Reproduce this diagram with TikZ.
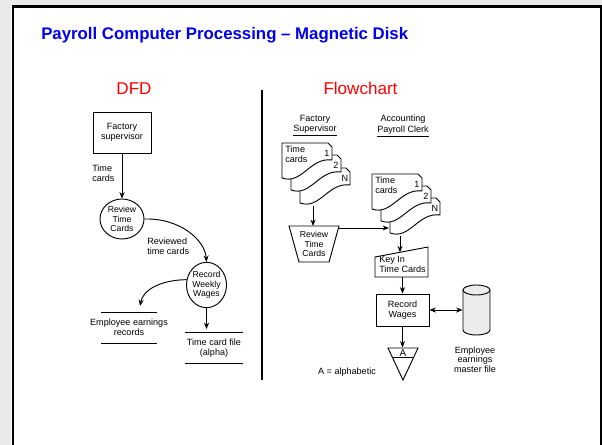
\documentclass[tikz,border=0pt]{standalone}
\usepackage{fontspec}
\setmainfont{Liberation Sans}
\usetikzlibrary{arrows.meta,shapes.geometric}
\definecolor{titleblue}{RGB}{0,0,235}
\definecolor{titlered}{RGB}{255,0,0}
\definecolor{framegray}{RGB}{234,234,234}
\definecolor{cylfill}{RGB}{236,236,236}
\newcommand{\timedoc}[4]{%
  \draw[docshape] (#1,#2) -- (#1+46,#2) -- (#1+50,#2+4) -- (#1+50,#2+17)
    .. controls (#1+28,#2+14) and (#1+20,#2+42) .. (#1,#2+35) -- cycle;
  \node[txt] (#4) at (#1+45,#2+10) {#3};}
\begin{document}
\begin{tikzpicture}[x=0.75pt,y=-0.75pt,
  txt/.style={font=\fontsize{6.8}{7.6}\selectfont, inner sep=0pt, align=center},
  ctxt/.style={font=\fontsize{6.5}{7.1}\selectfont, inner sep=0pt, align=center},
  ln/.style={line width=0.7pt},
  arr/.style={ln, -{Stealth[length=4.8pt,width=3.8pt]}},
  darr/.style={ln, {Stealth[length=4.8pt,width=3.8pt]}-{Stealth[length=4.8pt,width=3.8pt]}},
  boxnode/.style={draw, ln, txt, rectangle},
  procnode/.style={draw, ln, ellipse, inner sep=0pt},
  docshape/.style={draw, ln, fill=white},
  heading/.style={inner sep=0pt, font=\fontsize{12.8}{14}\selectfont, text=titlered, anchor=base}
]
\useasboundingbox (0,0) rectangle (602,445);
% frame
\fill[framegray] (0,0) rectangle (602,5);
\fill[framegray] (0,0) rectangle (11,445);
\draw[line width=1.6pt] (13,445) -- (13,6.5) -- (600.8,6.5) -- (600.8,445);

% titles
\node[anchor=base west, inner sep=0pt, font=\fontsize{12.6}{14}\selectfont\bfseries, text=titleblue] (title) at (41,39.5) {Payroll Computer Processing – Magnetic Disk};
\node[heading] (dfd) at (134,95) {DFD};
\node[heading] (fc) at (360.5,95) {Flowchart};

% divider
\draw[line width=0.9pt] (262,90) -- (262,380);

% ---------------- DFD ----------------
\node[boxnode, minimum width=43.5pt, minimum height=30.75pt] (fs) at (122,132.5) {Factory\\supervisor};
\node[procnode, minimum width=33pt, minimum height=30pt,
      label={[ctxt]center:Review\\Time\\Cards}] (rev) at (122,219) {};
\node[procnode, minimum width=30pt, minimum height=34pt,
      label={[ctxt]center:Record\\Weekly\\Wages}] (rec) at (206.5,285) {};

\node[txt, anchor=west, align=left] (lbltc) at (92,173.5) {Time\\cards};
\node[txt, anchor=west, align=left] (lblrtc) at (147,246) {Reviewed\\time cards};

\draw[arr] (fs.south) -- (rev.north);
\draw[arr] (rev.east) .. controls (180,218) and (205,240) .. (rec.north);

\coordinate (eerin) at (140,306);
\draw[arr] (rec.165) .. controls (160,280) and (143,290) .. (eerin);
\coordinate (tcfin) at (206.5,329);
\draw[arr] (rec.south) -- (tcfin);

\draw[ln] (101,312) -- (157,312) (101,343) -- (157,343);
\node[txt] (eer) at (129,327.5) {Employee earnings\\records};
\draw[ln] (185,332) -- (243,332) (185,363) -- (243,363);
\node[txt] (tcf) at (214,348) {Time card file\\(alpha)};

% ---------------- Flowchart ----------------
\node[txt] (h1) at (315,126) {Factory\\\underline{Supervisor}};
\node[txt] (h2) at (403,126) {Accounting\\\underline{Payroll Clerk}};

% stack 1
\timedoc{300}{168}{N}{s1n}
\timedoc{291}{155}{2}{s1b}
\timedoc{282}{143}{1}{s1a}
\node[txt, anchor=north west, align=left] (s1t) at (285,145.5) {Time\\cards};

% review time cards (manual operation)
\draw[ln] (289,226) -- (339,226) -- (329,262) -- (299,262) -- cycle;
\node[ctxt] (revtc) at (314,244) {Review\\Time\\Cards};
\coordinate (s1out) at (313,205.5);
\coordinate (trtop) at (313,226);
\coordinate (trright) at (339,228);
\draw[arr] (s1out) -- (trtop);

% stack 2
\timedoc{390}{198}{N}{s2n}
\timedoc{381}{186}{2}{s2b}
\timedoc{372}{174}{1}{s2a}
\node[txt, anchor=north west, align=left] (s2t) at (375,176.5) {Time\\cards};
\coordinate (s2in) at (389,228);
\draw[arr] (trright) -- (s2in);

% key in (manual input)
\draw[ln] (375,257) -- (428,247) -- (428,277) -- (375,277) -- cycle;
\node[txt, anchor=west, align=left] (keyin) at (379,264) {Key In\\Time Cards};
\coordinate (s2out) at (400,235.5);
\coordinate (kitop) at (400,252.3);
\draw[arr] (s2out) -- (kitop);

% record wages
\node[boxnode, minimum width=39.75pt, minimum height=24pt] (rw) at (402.5,310) {Record\\Wages};
\coordinate (kib) at (402.5,277);
\draw[arr] (kib) -- (rw.north);

% master file (disk)
\draw[ln, fill=cylfill] (463,290) -- (463,330) arc[start angle=180, end angle=0, x radius=13.5, y radius=5] -- (490,290);
\draw[ln, fill=cylfill] (476.5,290) ellipse [x radius=13.5, y radius=5];
\coordinate (cylw) at (462.5,310);
\draw[darr] (rw.east) -- (cylw);
\node[txt, font=\fontsize{6.8}{7.1}\selectfont] (emf) at (475,359.5) {Employee\\earnings\\master file};

% offline file
\draw[ln] (388,348) -- (418,348) -- (403,380) -- cycle;
\draw[ln] (392.2,357) -- (413.8,357);
\node[txt, font=\fontsize{7.4}{8}\selectfont] (afile) at (403,352.8) {A};
\coordinate (tritop) at (402.5,347.5);
\draw[arr] (rw.south) -- (tritop);
\node[txt] (alpha) at (347,372.5) {A = alphabetic};
\end{tikzpicture}
\end{document}
